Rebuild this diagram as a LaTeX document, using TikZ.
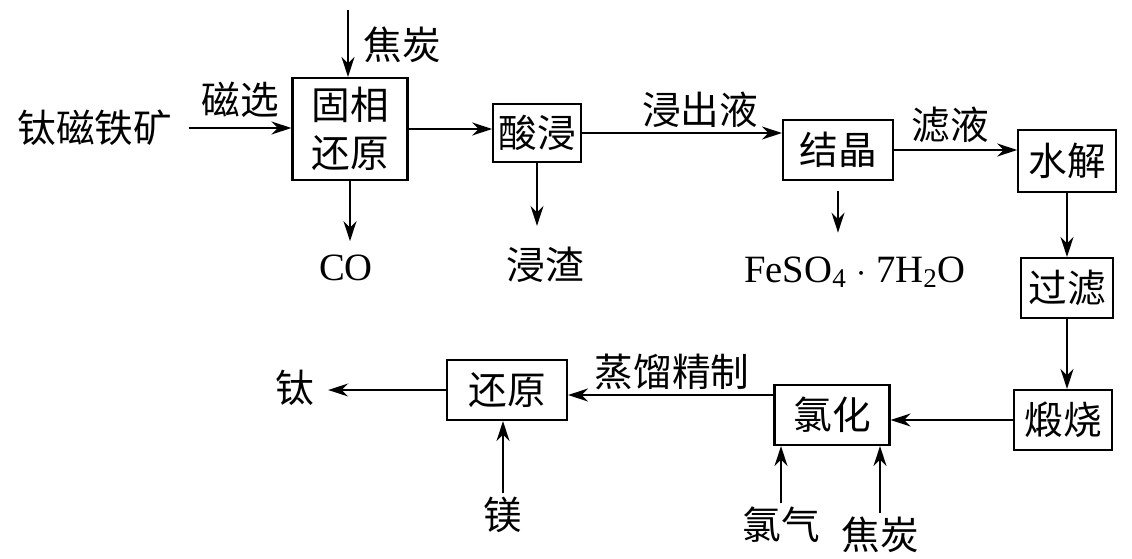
\documentclass[tikz,border=0pt]{standalone}
\usepackage{fontspec}
\setmainfont{Liberation Serif}
\newfontfamily\cjk{Noto Sans CJK SC}
\usetikzlibrary{arrows.meta,positioning}

\tikzset{
  proc/.style={draw, line width=1.2pt, font=\cjk\fontsize{22}{27}\selectfont,
    minimum height=1.2cm, minimum width=2.1cm, inner sep=2pt, align=center},
  lbl/.style={font=\cjk\fontsize{22}{26}\selectfont, inner sep=2pt},
  chem/.style={font=\fontsize{22}{26}\selectfont, inner sep=2pt},
  flow/.style={-{Stealth[length=4mm,width=2.6mm]}, line width=1pt},
}

\begin{document}
\begin{tikzpicture}[x=0.02cm, y=-0.02cm]
  \useasboundingbox (0,0) rectangle (1132,558);

  % process boxes
  \node[proc, minimum width=2.3cm, minimum height=2.04cm] (solid) at (350,129) {固相\\还原};
  \node[proc, minimum width=1.75cm, minimum height=1.15cm] (acid) at (537,133) {酸浸};
  \node[proc, minimum width=2.2cm] (cryst) at (838,150) {结晶};
  \node[proc, minimum width=1.95cm, minimum height=1.25cm] (hydro) at (1067,161) {水解};
  \node[proc, minimum width=1.85cm] (filt) at (1067,288) {过滤};
  \node[proc, minimum width=1.95cm] (calc) at (1063,420) {煅烧};
  \node[proc, minimum width=2.3cm] (chlor) at (832,415) {氯化};
  \node[proc, minimum width=2.4cm] (redu) at (507,390) {还原};

  % inputs, outputs and labels
  \node[lbl] (ore) at (95,128) {钛磁铁矿};
  \node[lbl] (magsep) at (240,100) {磁选};
  \coordinate (cokein) at (348,10);
  \node[lbl] (coke1) at (402,45) {焦炭};
  \node[chem] (co) at (346,268) {CO};
  \node[lbl] (residue) at (545,265) {浸渣};
  \node[lbl] (leach) at (700,110) {浸出液};
  \node[chem] (ferrous) at (855,272) {FeSO\textsubscript{4} $\cdot$ 7H\textsubscript{2}O};
  \node[lbl] (filtrate) at (950,125) {滤液};
  \node[lbl] (distil) at (672,372) {蒸馏精制};
  \node[lbl] (ti) at (295,388) {钛};
  \node[lbl] (mg) at (503,515) {镁};
  \node[lbl] (cl2) at (781,525) {氯气};
  \node[lbl] (coke2) at (880,535) {焦炭};

  % connectors
  \draw[flow] (cokein) -- (cokein |- solid.north);
  \draw[flow] ([xshift=0.25cm]ore.east) -- (ore.east -| solid.west);
  \draw[flow] (solid.south) -- ([yshift=0.2cm]co.north -| solid.south);
  \draw[flow] (solid.east) -- (solid.east -| acid.west);
  \draw[flow] (acid.south) -- ([yshift=0.35cm]residue.north -| acid.south);
  \draw[flow] (acid.east) -- (acid.east -| cryst.west);
  \draw[flow] ([yshift=-0.2cm]cryst.south) -- ([yshift=0.4cm]ferrous.north -| cryst.south);
  \draw[flow] (cryst.east) -- (cryst.east -| hydro.west);
  \draw[flow] (hydro) -- (filt);
  \draw[flow] (filt.south) -- (filt.south |- calc.north);
  \draw[flow] (calc.west) -- (calc.west -| chlor.east);
  \draw[flow] ([yshift=0.4cm]chlor.west) -- ([yshift=0.4cm]chlor.west -| redu.east);
  \draw[flow, shorten >=0.2cm] (redu.west) -- (redu.west -| ti.east);
  \draw[flow] (mg) -- (mg |- redu.south);
  \draw[flow] (cl2) -- (cl2 |- chlor.south);
  \draw[flow] (coke2) -- (coke2 |- chlor.south);
\end{tikzpicture}
\end{document}
